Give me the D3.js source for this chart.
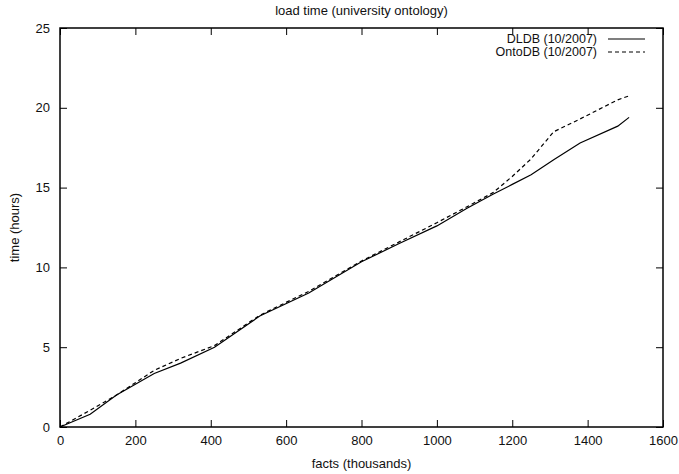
<!DOCTYPE html>
<html>
<head>
<meta charset="utf-8">
<script src="https://cdn.jsdelivr.net/npm/d3@7/dist/d3.min.js"></script>
<style>
  html, body { margin: 0; padding: 0; background: #fff; }
  svg { display: block; }
  text { font-family: "Liberation Sans", Arial, Helvetica, sans-serif; fill: #111; }
</style>
</head>
<body>
<svg id="chart" width="679" height="474"></svg>
<script>
// ---- data ----
const titleText = "load time (university ontology)";
const xLabel = "facts (thousands)";
const yLabel = "time (hours)";
const xTicks = [0, 200, 400, 600, 800, 1000, 1200, 1400, 1600];
const yTicks = [0, 5, 10, 15, 20, 25];
const seriesNames = ["DLDB (10/2007)", "OntoDB (10/2007)"];
const facts = [0, 80, 150, 250, 320, 410, 530, 660, 800, 900, 1000, 1080, 1150, 1200, 1250, 1310, 1380, 1480, 1510];
const dldb = [0, 0.8, 2.0, 3.35, 4.0, 5.0, 6.95, 8.4, 10.35, 11.5, 12.6, 13.7, 14.6, 15.2, 15.8, 16.75, 17.8, 18.85, 19.4];
const ontodb = [0, 1.05, 2.0, 3.55, 4.3, 5.1, 7.0, 8.5, 10.4, 11.6, 12.8, 13.8, 14.7, 15.7, 16.8, 18.5, 19.3, 20.5, 20.75];

// ---- layout ----
const svg = d3.select("#chart");
const L = 60, R = 663, T = 28, B = 427;
const x = d3.scaleLinear().domain([0, 1600]).range([L, R]);
const y = d3.scaleLinear().domain([0, 25]).range([B, T]);
const tickLen = 7;
const fs = 13;
const fmt = d3.format("d");

// axes (gnuplot-style inward ticks, mirrored)
const axB = d3.axisBottom(x).tickValues(xTicks).tickFormat(fmt).tickSizeInner(-tickLen).tickSizeOuter(0).tickPadding(9);
const axT = d3.axisTop(x).tickValues(xTicks).tickSizeInner(-tickLen).tickSizeOuter(0).tickFormat("");
const axL = d3.axisLeft(y).tickValues(yTicks).tickFormat(fmt).tickSizeInner(-tickLen).tickSizeOuter(0).tickPadding(10);
const axR = d3.axisRight(y).tickValues(yTicks).tickSizeInner(-tickLen).tickSizeOuter(0).tickFormat("");

function style(g) {
  g.selectAll("path.domain").remove();
  g.selectAll(".tick line").attr("stroke", "#000").attr("stroke-width", 1);
  g.selectAll(".tick text").attr("font-size", fs).attr("fill", "#111")
    .attr("font-family", '"Liberation Sans", Arial, sans-serif');
}
svg.append("g").attr("transform", `translate(0,${B})`).call(axB).call(style);
svg.append("g").attr("transform", `translate(0,${T})`).call(axT).call(style);
svg.append("g").attr("transform", `translate(${L},0)`).call(axL).call(style);
svg.append("g").attr("transform", `translate(${R},0)`).call(axR).call(style);

// frame
svg.append("rect").attr("x", L).attr("y", T).attr("width", R - L).attr("height", B - T)
  .attr("fill", "none").attr("stroke", "#000").attr("stroke-width", 1.5);

// lines
const line = d3.line().x(d => x(d[0])).y(d => y(d[1]));
const dash = "4,3";
svg.append("path").datum(facts.map((f, i) => [f, dldb[i]]))
  .attr("d", line).attr("fill", "none").attr("stroke", "#000").attr("stroke-width", 1.2);
svg.append("path").datum(facts.map((f, i) => [f, ontodb[i]]))
  .attr("d", line).attr("fill", "none").attr("stroke", "#000").attr("stroke-width", 1.2)
  .attr("stroke-dasharray", dash);

// legend
const legY = [39, 52];
seriesNames.forEach((name, i) => {
  svg.append("text").attr("x", 597).attr("y", legY[i]).attr("dy", "0.35em")
    .attr("text-anchor", "end").attr("font-size", 12.5).text(name);
  svg.append("line").attr("x1", 608).attr("x2", 645).attr("y1", legY[i]).attr("y2", legY[i])
    .attr("stroke", "#000").attr("stroke-width", 1.2)
    .attr("stroke-dasharray", i === 1 ? dash : null);
});

// titles
svg.append("text").attr("x", (L + R) / 2).attr("y", 15).attr("text-anchor", "middle")
  .attr("font-size", fs).text(titleText);
svg.append("text").attr("x", (L + R) / 2).attr("y", 468).attr("text-anchor", "middle")
  .attr("font-size", fs).text(xLabel);
svg.append("text").attr("transform", `translate(19,${(T + B) / 2}) rotate(-90)`)
  .attr("text-anchor", "middle").attr("font-size", fs).text(yLabel);
</script>
</body>
</html>
